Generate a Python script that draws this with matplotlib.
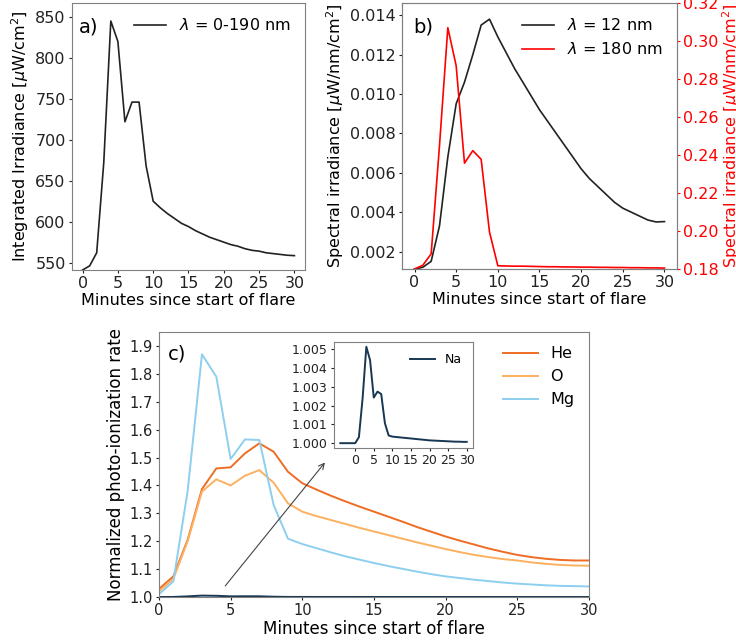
import matplotlib
matplotlib.use("Agg")
import matplotlib.pyplot as plt
import matplotlib.ticker as mticker

# ---- data ----
minutes = list(range(0, 31))
irr_total = [541, 546, 562, 672, 845, 820, 722, 746, 746, 668, 625,
             617, 610, 604, 598, 594, 589, 585, 581, 578, 575,
             572, 570, 567, 565, 564, 562, 561, 560, 559, 558.5]
irr_12nm = [0.00111, 0.0012, 0.0015, 0.0033, 0.0068, 0.0095, 0.0106, 0.0120, 0.0135, 0.0138, 0.0129,
            0.0121, 0.0113, 0.0106, 0.0099, 0.0092, 0.0086, 0.0080, 0.0074, 0.0068, 0.0062,
            0.0057, 0.0053, 0.0049, 0.0045, 0.0042, 0.0040, 0.0038, 0.0036, 0.0035, 0.00352]
irr_180nm = [0.180, 0.182, 0.188, 0.245, 0.307, 0.287, 0.2357, 0.2423, 0.2377, 0.1995, 0.1817,
             0.1816, 0.1815, 0.1815, 0.1814, 0.1813, 0.1812, 0.1812, 0.1811, 0.1811, 0.1810,
             0.1810, 0.1809, 0.1809, 0.1808, 0.1808, 0.1807, 0.1807, 0.1806, 0.1806, 0.1805]

he = [1.029, 1.074, 1.205, 1.387, 1.461, 1.465, 1.515, 1.551, 1.521, 1.449, 1.408,
      1.385, 1.363, 1.343, 1.324, 1.306, 1.288, 1.270, 1.251, 1.234, 1.217,
      1.202, 1.188, 1.174, 1.162, 1.151, 1.143, 1.137, 1.133, 1.131, 1.131]
oxy = [1.020, 1.065, 1.200, 1.378, 1.422, 1.400, 1.435, 1.455, 1.410, 1.336, 1.306,
       1.290, 1.276, 1.262, 1.248, 1.235, 1.222, 1.209, 1.196, 1.184, 1.172,
       1.161, 1.151, 1.143, 1.136, 1.131, 1.124, 1.119, 1.115, 1.113, 1.112]
mg = [1.010, 1.056, 1.380, 1.870, 1.790, 1.495, 1.565, 1.563, 1.330, 1.209, 1.190,
      1.175, 1.160, 1.146, 1.134, 1.122, 1.111, 1.101, 1.091, 1.082, 1.074,
      1.068, 1.062, 1.057, 1.052, 1.048, 1.045, 1.042, 1.040, 1.039, 1.038]
na_minutes = list(range(-4, 31))
na = [1.0000, 1.0000, 1.0000, 1.0000, 1.0000, 1.00032, 1.0024, 1.00514, 1.00443, 1.00243,
      1.00275, 1.00262, 1.00106, 1.00041, 1.00035,
      1.00033, 1.00031, 1.00029, 1.00027, 1.00025, 1.00023, 1.00021, 1.00019, 1.00017, 1.00015,
      1.00014, 1.00013, 1.00012, 1.00011, 1.0001, 1.00009, 1.00008, 1.00008, 1.00007, 1.00007]

c_he = '#ef6c24'
c_o = '#fdb05f'
c_mg = '#8dcfee'
c_na = '#173753'
spine_c = '#808080'
FS = 11.5

plt.rcParams['font.family'] = ['DejaVu Sans']
plt.rcParams['mathtext.fontset'] = 'dejavusans'

fig = plt.figure(figsize=(7.36, 6.41), dpi=100)

def style(ax, fs=FS):
    for s in ax.spines.values():
        s.set_color(spine_c)
    ax.tick_params(labelsize=fs, colors='#222222', length=2.5, pad=2)

# ---- panel a ----
axa = fig.add_axes([0.0978, 0.5788, 0.3166, 0.4165])
axa.plot(minutes, irr_total, color='#222222', lw=1.2, label=r'$\lambda$ = 0-190 nm')
axa.set_ylim(541, 867)
axa.set_xlim(-1.5, 31.5)
axa.set_yticks([550, 600, 650, 700, 750, 800, 850])
axa.set_xticks([0, 5, 10, 15, 20, 25, 30])
axa.set_xlabel('Minutes since start of flare', fontsize=FS, labelpad=1)
axa.set_ylabel(r'Integrated Irradiance [$\mu$W/cm$^2$]', fontsize=FS, labelpad=3)
axa.legend(loc='upper right', frameon=False, fontsize=FS)
axa.text(0.03, 0.91, 'a)', transform=axa.transAxes, fontsize=14, va='center')
style(axa)

# ---- panel b ----
axb = fig.add_axes([0.5462, 0.5803, 0.3736, 0.415])
l1, = axb.plot(minutes, irr_12nm, color='#222222', lw=1.2, label=r'$\lambda$ = 12 nm')
axb.set_ylim(0.00111, 0.01462)
axb.set_xlim(-1.5, 31.5)
axb.set_yticks([0.002, 0.004, 0.006, 0.008, 0.010, 0.012, 0.014])
axb.set_xticks([0, 5, 10, 15, 20, 25, 30])
axb.set_xlabel('Minutes since start of flare', fontsize=FS, labelpad=1)
axb.set_ylabel(r'Spectral irradiance [$\mu$W/nm/cm$^2$]', fontsize=FS, labelpad=3)
style(axb)
axb2 = axb.twinx()
l2, = axb2.plot(minutes, irr_180nm, color='red', lw=1.2, label=r'$\lambda$ = 180 nm')
axb2.set_ylim(0.18, 0.32)
axb2.set_yticks([0.18, 0.20, 0.22, 0.24, 0.26, 0.28, 0.30, 0.32])
axb2.set_ylabel(r'Spectral irradiance [$\mu$W/nm/cm$^2$]', fontsize=FS, color='red', labelpad=1)
for s in axb2.spines.values():
    s.set_color(spine_c)
axb2.tick_params(axis='y', labelsize=FS, colors='red', length=2.5, pad=2)
axb.legend(handles=[l1, l2], loc='upper right', frameon=False, fontsize=FS)
axb.text(0.04, 0.91, 'b)', transform=axb.transAxes, fontsize=14, va='center')

# ---- panel c ----
axc = fig.add_axes([0.216, 0.0686, 0.5842, 0.4134])
axc.plot(minutes, he, color=c_he, lw=1.4, label='He')
axc.plot(minutes, oxy, color=c_o, lw=1.4, label='O')
axc.plot(minutes, mg, color=c_mg, lw=1.4, label='Mg')
axc.plot(na_minutes, na, color=c_na, lw=1.4)
axc.set_xlim(0, 30)
axc.set_ylim(1.0, 1.95)
axc.set_yticks([1.0, 1.1, 1.2, 1.3, 1.4, 1.5, 1.6, 1.7, 1.8, 1.9])
axc.set_xticks([0, 5, 10, 15, 20, 25, 30])
axc.set_xlabel('Minutes since start of flare', fontsize=12, labelpad=1)
axc.set_ylabel('Normalized photo-ionization rate', fontsize=12, labelpad=3)
axc.legend(loc='upper right', frameon=False, fontsize=FS, handlelength=2.2)
axc.text(0.02, 0.917, 'c)', transform=axc.transAxes, fontsize=14, va='center')
axc.annotate('', xy=(11.7, 1.49), xytext=(4.5, 1.032),
             arrowprops=dict(arrowstyle='->', color='#444444', lw=0.8))
style(axc, fs=10.5)

# ---- inset ----
axi = fig.add_axes([0.4538, 0.3011, 0.1889, 0.1654])
axi.plot(na_minutes, na, color=c_na, lw=1.4, label='Na')
axi.set_xticks([0, 5, 10, 15, 20, 25, 30])
axi.set_yticks([1.000, 1.001, 1.002, 1.003, 1.004, 1.005])
axi.yaxis.set_major_formatter(mticker.FormatStrFormatter('%.3f'))
axi.legend(loc='upper right', frameon=False, fontsize=9)
style(axi, fs=9)

fig.savefig('out.png', dpi=100)
